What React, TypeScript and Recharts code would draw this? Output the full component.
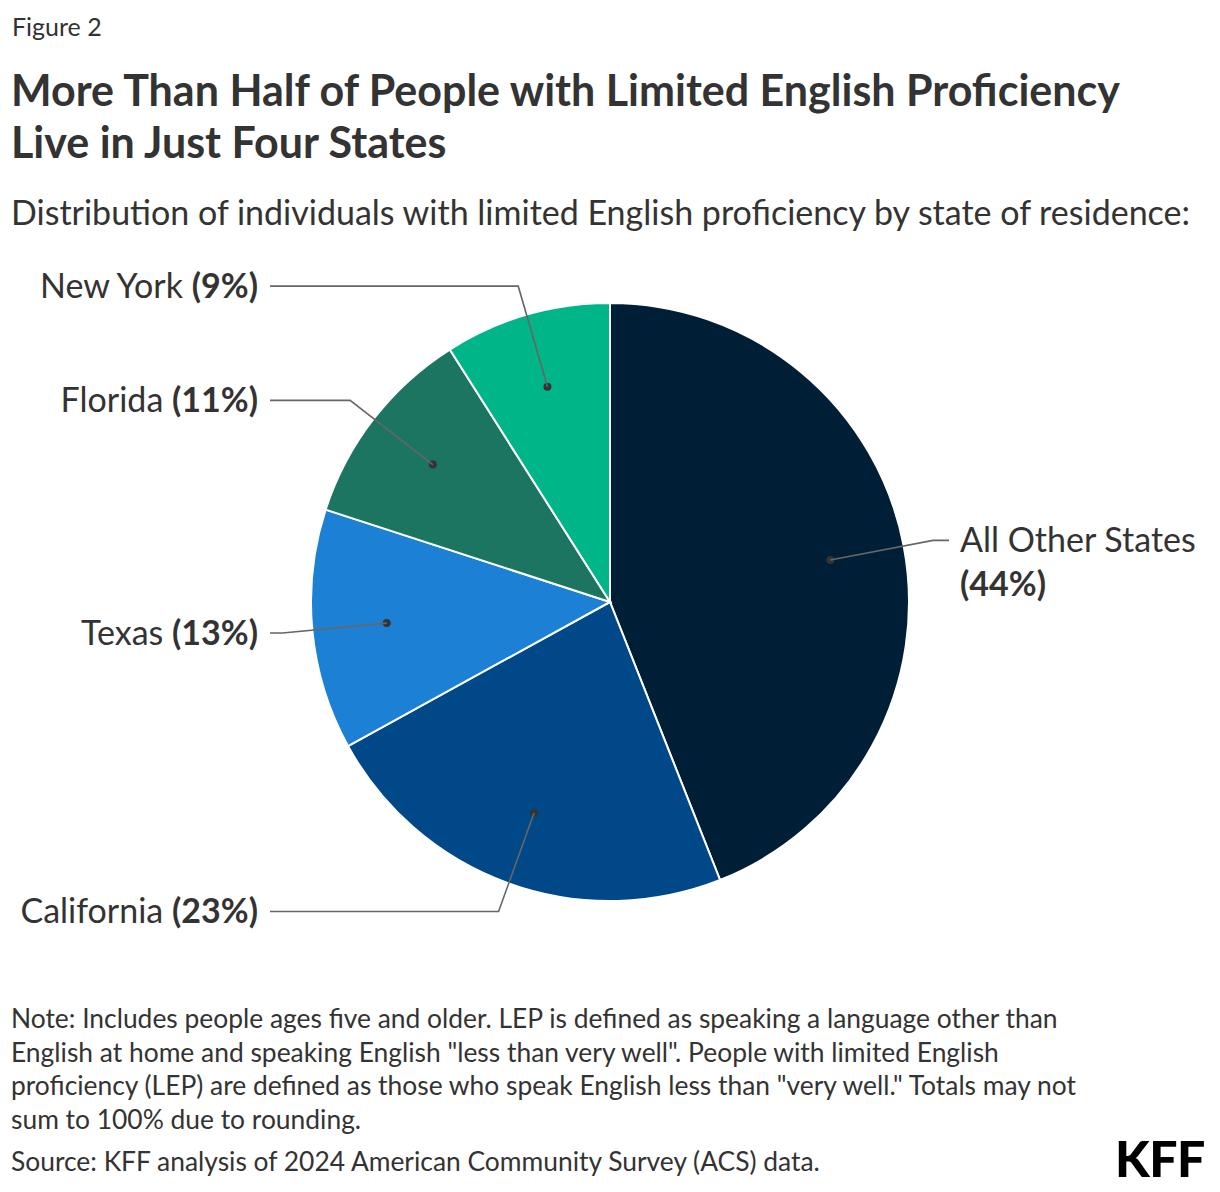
import { PieChart, Pie, Cell } from "recharts";

const states = ["All Other States", "California", "Texas", "Florida", "New York"];
const shares = [44, 23, 13, 11, 9];
const sliceColors = ["#001F37", "#004887", "#1C80D5", "#1B7561", "#00B587"];

const noteLines = [
  "Note: Includes people ages five and older. LEP is defined as speaking a language other than",
  'English at home and speaking English "less than very well". People with limited English',
  'proficiency (LEP) are defined as those who speak English less than "very well." Totals may not',
  "sum to 100% due to rounding.",
];

const data = states.map((name, i) => ({ name, value: shares[i] }));

const FONT = "Lato, 'Noto Sans', sans-serif";
const RADIAN = Math.PI / 180;

function renderLabel(props: any) {
  const { cx, cy, midAngle, outerRadius, name, value } = props;
  const cos = Math.cos(-midAngle * RADIAN);
  const sin = Math.sin(-midAngle * RADIAN);
  const dotX = cx + outerRadius * 0.75 * cos;
  const dotY = cy + outerRadius * 0.75 * sin;
  const elbowX = cx + outerRadius * 1.1 * cos;
  const elbowY = cy + outerRadius * 1.1 * sin;
  const right = cos >= 0;
  const endX = right ? cx + 339 : cx - 340;
  const textX = right ? cx + 350 : cx - 352;

  return (
    <g>
      <circle cx={dotX} cy={dotY} r={4} fill="#333" />
      <polyline
        points={`${dotX},${dotY} ${elbowX},${elbowY} ${endX},${elbowY}`}
        fill="none"
        stroke="#666"
        strokeWidth={1.6}
      />
      {right ? (
        <text x={textX} y={elbowY} fill="#333" fontSize={34} fontFamily={FONT} textAnchor="start">
          <tspan x={textX} dy="0.35em">{name}</tspan>
          <tspan x={textX} dy="1.3em" fontWeight={700}>({value}%)</tspan>
        </text>
      ) : (
        <text x={textX} y={elbowY} dy="0.35em" fill="#333" fontSize={34} fontFamily={FONT} textAnchor="end">
          {name} <tspan fontWeight={700}>({value}%)</tspan>
        </text>
      )}
    </g>
  );
}

export default function App() {
  return (
    <div style={{ position: "absolute", left: 0, top: 0, width: 1220, height: 1192, background: "#fff", fontFamily: FONT, color: "#333" }}>
      <div style={{ position: "absolute", left: 12, top: 11, fontSize: 25 }}>Figure 2</div>
      <div style={{ position: "absolute", left: 11, top: 64, fontSize: 43, fontWeight: 700, lineHeight: "52px", width: 1210, whiteSpace: "nowrap" }}>
        More Than Half of People with Limited English Proficiency
        <br />
        Live in Just Four States
      </div>
      <div style={{ position: "absolute", left: 11, top: 191, fontSize: 34, whiteSpace: "nowrap" }}>
        Distribution of individuals with limited English proficiency by state of residence:
      </div>

      <div style={{ position: "absolute", left: 0, top: 0 }}>
        <PieChart width={1220} height={1192} margin={{ top: 0, right: 0, bottom: 0, left: 0 }}>
          <Pie
            data={data}
            dataKey="value"
            nameKey="name"
            cx={610}
            cy={602}
            outerRadius={299}
            startAngle={90}
            endAngle={-270}
            stroke="#fff"
            strokeWidth={2}
            label={renderLabel}
            labelLine={false}
            isAnimationActive={false}
          >
            {data.map((d, i) => (
              <Cell key={d.name} fill={sliceColors[i]} />
            ))}
          </Pie>
        </PieChart>
      </div>

      <div style={{ position: "absolute", left: 11, top: 1002, fontSize: 26.4, lineHeight: "33.6px", whiteSpace: "nowrap" }}>
        {noteLines.map((l) => (
          <div key={l}>{l}</div>
        ))}
      </div>
      <div style={{ position: "absolute", left: 11, top: 1145, fontSize: 26.4, whiteSpace: "nowrap" }}>
        Source: KFF analysis of 2024 American Community Survey (ACS) data.
      </div>
      <div style={{ position: "absolute", left: 1115, top: 1128, fontSize: 50, fontWeight: 900, color: "#000", letterSpacing: -0.5 }}>
        KFF
      </div>
    </div>
  );
}
